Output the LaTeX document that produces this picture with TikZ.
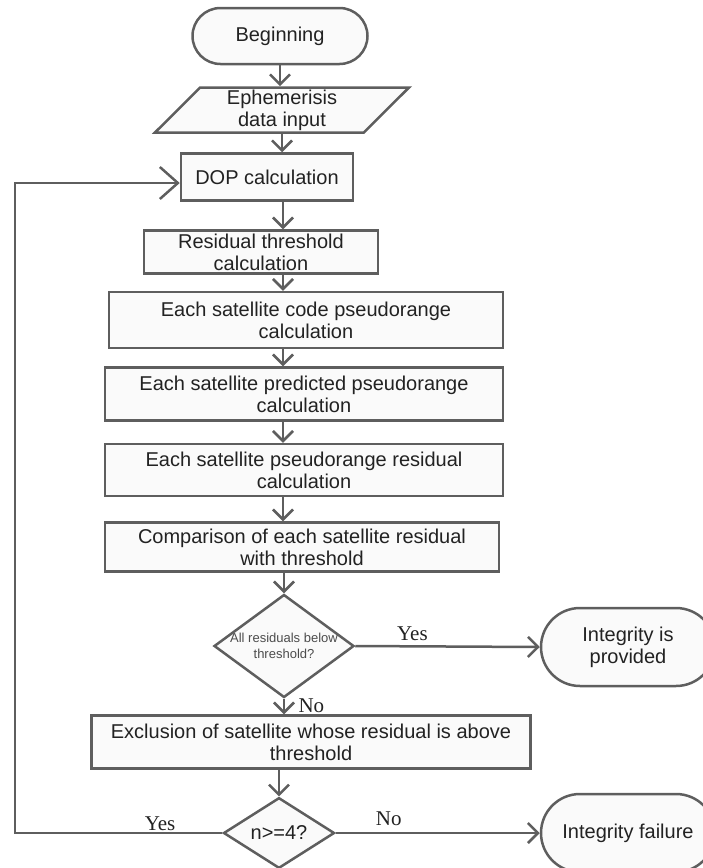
\documentclass[tikz,border=0pt]{standalone}
\usepackage{fontspec}
\setmainfont{Liberation Sans}
\newfontfamily\yesnofont{Liberation Serif}
\usetikzlibrary{arrows.meta,shapes,positioning,calc}
\definecolor{linegray}{HTML}{5E5E5E}
\definecolor{boxfill}{HTML}{FAFAFA}
\definecolor{txtgray}{HTML}{222222}
\tikzset{
  blk/.style={rectangle,draw=linegray,line width=2.5pt,fill=boxfill,
              align=center,inner sep=0pt,text=txtgray},
  term/.style={rounded rectangle,draw=linegray,line width=2.5pt,fill=boxfill,
               align=center,inner sep=0pt,text=txtgray},
  decide/.style={diamond,draw=linegray,line width=2.5pt,fill=boxfill,
                 inner sep=0pt,text=txtgray},
  conn/.style={draw=linegray,line width=2.5pt,->},
  yn/.style={font=\yesnofont\fontsize{21}{21}\selectfont,text=txtgray}
}

\begin{document}
\begin{tikzpicture}[x=1pt,y=-1pt,
  >={Straight Barb[length=10pt,width=20pt]},
  font=\fontsize{20}{22}\selectfont]
\useasboundingbox (0,0) rectangle (702,868);
\coordinate (ax) at (283,0);

\node[term,minimum width=175pt,minimum height=56pt] (begin) at (280,36) {Beginning};
\node[trapezium,trapezium left angle=42,trapezium right angle=138,
      trapezium stretches body,draw=linegray,line width=2.5pt,fill=boxfill,
      align=center,inner sep=0pt,text=txtgray,
      minimum width=254pt,minimum height=45pt] (ephem) at (282,110) {Ephemerisis\\data input};
\node[blk,minimum width=172pt,minimum height=47pt] (dop) at (267,177) {DOP calculation};
\node[blk,minimum width=234pt,minimum height=43pt] (thr) at (261,252) {Residual threshold\\calculation};
\node[blk,minimum width=394pt,minimum height=56pt] (code) at (306,320) {Each satellite code pseudorange\\calculation};
\node[blk,minimum width=398pt,minimum height=53pt] (pred) at (304,394) {Each satellite predicted pseudorange\\calculation};
\node[blk,minimum width=398pt,minimum height=52pt] (resid) at (304,470) {Each satellite pseudorange residual\\calculation};
\node[blk,minimum width=394pt,minimum height=49pt] (cmp) at (302,547) {Comparison of each satellite residual\\with threshold};
\node[decide,minimum width=140pt,minimum height=103pt,
      label={[align=center,text=black!70,font=\fontsize{13}{16}\selectfont]center:All residuals below\\threshold?}] (chk) at (284,646) {};
\node[term,minimum width=174pt,minimum height=78pt] (ok) at (628,647) {Integrity is\\provided};
\node[blk,minimum width=439pt,minimum height=53pt] (excl) at (311,742) {Exclusion of satellite whose residual is above\\threshold};
\node[decide,minimum width=111pt,minimum height=69pt] (cnt) at (279,833) {n>=4?};
\node[term,minimum width=174pt,minimum height=78pt] (fail) at (628,833) {Integrity failure};

% main flow
\draw[conn] (begin.south) -- (begin.south |- ephem.north);
\draw[conn] (ephem.south) -- (ephem.south |- dop.north);
\draw[conn] (dop.south -| ax) -- (thr.north -| ax);
\draw[conn] (thr.south -| ax) -- (code.north -| ax);
\draw[conn] (code.south -| ax) -- (pred.north -| ax);
\draw[conn] (pred.south -| ax) -- (resid.north -| ax);
\draw[conn] (resid.south -| ax) -- (cmp.north -| ax);
\draw[conn] (cmp.south -| chk.north) -- (chk.north);
\draw[conn] (chk.east) -- node[yn,above,pos=0.31,inner sep=4pt]{Yes} (ok.west);
\draw[conn] (chk.south) -- node[yn,right,xshift=10pt,pos=0.45]{No} (chk.south |- excl.north);
\draw[conn] (excl.south -| cnt.north) -- (cnt.north);
\draw[conn] (cnt.east) -- node[yn,above,pos=0.26,inner sep=6pt]{No} (fail.west);

% loop back
\coordinate (lp) at (15,833);
\draw[conn,>={Straight Barb[length=18pt,width=32pt]}] (cnt.west) -- node[yn,above,pos=0.3,inner sep=1pt]{Yes} (lp) |- ([yshift=-6pt]dop.west);
\end{tikzpicture}
\end{document}
